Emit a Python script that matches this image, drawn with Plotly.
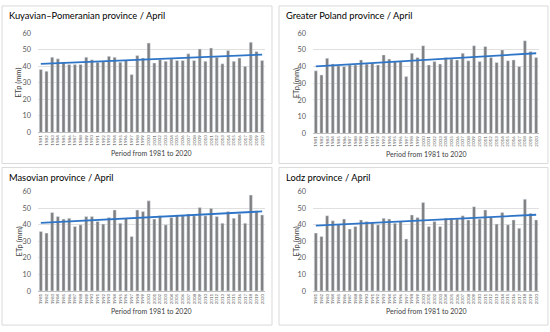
import numpy as np
import plotly.graph_objects as go

years = [str(y) for y in range(1981, 2021)]

kuyavian = [38, 37, 45.5, 44.5, 42.5, 41, 41, 41, 45.5, 44, 42.5, 43, 46, 45.5, 42.5, 43.5, 35, 46.5, 45, 54,
            42, 44, 43, 44.5, 43.5, 43.5, 47.5, 43.5, 50.5, 43, 51, 45.5, 41.5, 49.5, 43, 45, 40, 54.5, 49, 43.5]
greater = [37.5, 35, 45, 41.5, 40.5, 40, 41, 41, 44, 41.5, 42, 41, 47, 44.5, 43, 43, 34, 48, 45.5, 52.5,
           41, 43, 41.5, 45.5, 44.5, 44, 48, 43.5, 52.5, 43, 52, 45.5, 42.5, 50, 43.5, 44, 40, 55.5, 49, 45.5]
masovian = [36, 35, 47.5, 45, 43.5, 44, 39, 40, 45, 45, 42, 40.5, 44.5, 49, 41, 44, 33, 49, 48, 54.5,
            43.5, 45.5, 40, 44.5, 46, 45.5, 46.5, 45.5, 50.5, 45.5, 50, 45, 41, 48, 44, 46.5, 41, 58, 48.5, 46]
lodz = [35, 33, 45.5, 42.5, 40.5, 43.5, 37.5, 39, 43, 42, 41.5, 40, 44, 43.5, 41, 42, 31.5, 46, 44.5, 53.5,
        39, 42, 39, 44, 44, 43.5, 45.5, 43, 51, 43.5, 49, 44.5, 40.5, 47.5, 40, 43, 38, 55.5, 47, 43]

titles = ["Kuyavian\u2013Pomeranian province / April", "Greater Poland province / April",
          "Masovian province / April", "Lodz province / April"]
series = [kuyavian, greater, masovian, lodz]
x_axis_title = "Period from 1981 to 2020"
y_axis_title = "ETp (mm)"

W, H = 550, 332
FONT = "Lato"

# pixel layout for each panel: (plot x0, plot x1, plot top, plot bottom, box x0, box x1, box top, box bottom)
panels = [
    (38, 265, 30, 132, 2, 272, 2, 164),
    (313, 539, 30, 133, 279, 548, 2, 164),
    (38, 265, 193, 295, 2, 272, 168, 330),
    (313, 539, 193, 295, 279, 548, 168, 330),
]

fig = go.Figure()
shapes = []
annotations = []
idx = np.arange(len(years))
for i, (vals, title, p) in enumerate(zip(series, titles, panels)):
    px0, px1, pt, pb, bx0, bx1, bt, bb = p
    n = "" if i == 0 else str(i + 1)
    xa, ya = "x" + n, "y" + n
    fig.add_trace(go.Bar(x=years, y=vals, marker_color="#808080", xaxis=xa, yaxis=ya,
                         showlegend=False, hoverinfo="x+y"))
    slope, intercept = np.polyfit(idx, vals, 1)
    trend = slope * idx + intercept
    fig.add_trace(go.Scatter(x=years, y=trend, mode="lines", line=dict(color="#2e75c8", width=1.8),
                             xaxis=xa, yaxis=ya, showlegend=False, hoverinfo="skip"))
    fig.layout["xaxis" + n] = dict(
        domain=[px0 / W, px1 / W], anchor=ya, type="category",
        tickangle=-90, tickfont=dict(size=4.5, color="#595959", family=FONT),
        showline=True, linecolor="#bfbfbf", linewidth=1, ticks="", showgrid=False,
        tickmode="array", tickvals=years, ticktext=years, fixedrange=True,
    )
    fig.layout["yaxis" + n] = dict(
        domain=[1 - pb / H, 1 - pt / H], anchor=xa, range=[0, 60], dtick=10,
        tickfont=dict(size=7.3, color="#595959", family=FONT), showgrid=True,
        gridcolor="#e0e0e0", gridwidth=1, zeroline=False, showline=False, ticks="",
        ticklabelstandoff=6, fixedrange=True,
    )
    shapes.append(dict(type="rect", xref="paper", yref="paper", x0=bx0 / W, x1=bx1 / W,
                       y0=1 - bb / H, y1=1 - bt / H, line=dict(color="#d9d9d9", width=1),
                       fillcolor="rgba(0,0,0,0)", layer="below"))
    annotations.append(dict(text=title, xref="paper", yref="paper", x=(bx0 + 5) / W, y=1 - (bt + 10) / H,
                            xanchor="left", yanchor="middle", showarrow=False,
                            font=dict(size=9.3, color="#000000", family=FONT)))
    annotations.append(dict(text=x_axis_title, xref="paper", yref="paper", x=(px0 + px1) / 2 / W,
                            y=1 - (pb + 21) / H, xanchor="center", yanchor="middle", showarrow=False,
                            font=dict(size=7, color="#404040", family=FONT)))
    annotations.append(dict(text=y_axis_title, xref="paper", yref="paper", x=(bx0 + 17) / W,
                            y=1 - (pt + pb) / 2 / H, xanchor="center", yanchor="middle", textangle=-90,
                            showarrow=False, font=dict(size=7.5, color="#404040", family=FONT)))

fig.update_layout(
    width=W, height=H, margin=dict(l=0, r=0, t=0, b=0),
    paper_bgcolor="white", plot_bgcolor="white",
    bargap=0.45, shapes=shapes, annotations=annotations,
    font=dict(family=FONT),
)
fig.write_html("out.html", config={"displayModeBar": False},
               post_script="document.body.style.margin='0';")
